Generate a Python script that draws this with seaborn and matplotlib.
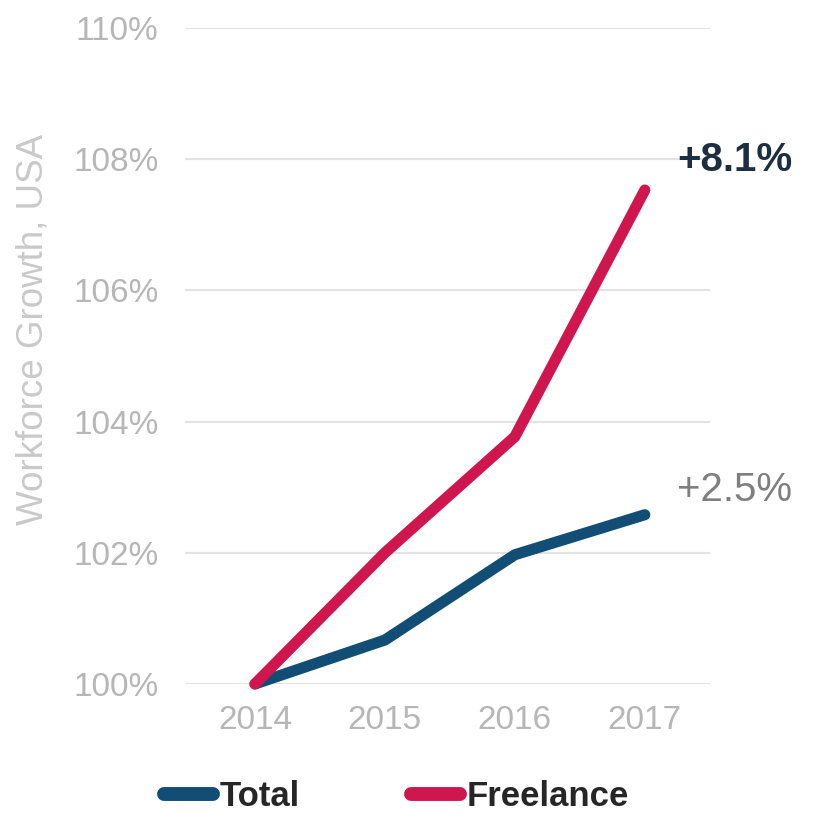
import numpy as np
import pandas as pd
import seaborn as sns
import matplotlib
matplotlib.use("Agg")
import matplotlib.pyplot as plt

# ------ data ------ #
years = [2014, 2015, 2016, 2017]
total = [100.0, 100.67, 101.97, 102.58]
freelance = [100.0, 102.0, 103.77, 107.53]
series_names = ["Total", "Freelance"]
end_labels = ["+2.5%", "+8.1%"]
y_ticks = [100, 102, 104, 106, 108, 110]

colors = {"Total": "#124d75", "Freelance": "#d0164f"}

df = pd.DataFrame({
    "year": years * 2,
    "growth": total + freelance,
    "series": ["Total"] * len(years) + ["Freelance"] * len(years),
})

sns.set_style("white")
plt.rcParams["font.family"] = ["Liberation Sans", "DejaVu Sans"]

fig = plt.figure(figsize=(8.14, 8.13), dpi=100)
ax = fig.add_axes([0.227, 0.1587, 0.645, 0.8069])

sns.lineplot(data=df, x="year", y="growth", hue="series", hue_order=series_names,
             palette=colors, linewidth=8, ax=ax, legend=True,
             solid_capstyle="round", solid_joinstyle="round")
for ln in ax.lines:
    ln.set_clip_on(False)

ax.set_xlim(2013.46, 2017.5)
ax.set_ylim(100, 110)
ax.set_yticks(y_ticks)
ax.set_yticklabels([f"{t}%" for t in y_ticks])
ax.set_xticks(years)
ax.set_xticklabels([str(y) for y in years])
ax.grid(axis="y", color="#e3e3e3", linewidth=1.5)
ax.set_axisbelow(True)
for s in ax.spines.values():
    s.set_visible(False)
ax.tick_params(axis="y", length=0, pad=19, labelsize=24, labelcolor="#b6b6b6")
ax.tick_params(axis="x", length=0, pad=15, labelsize=24, labelcolor="#b6b6b6")
ax.set_xlabel("")
ax.set_ylabel("Workforce Growth, USA", fontsize=26.5, color="#c9c9c9", labelpad=10)
ax.yaxis.set_label_coords(-0.255, 0.54)

# ------ end-of-line labels ------ #
ax.text(years[-1] + 0.25, total[-1] + 0.38, end_labels[0], fontsize=29,
        color="#7f7f7f", va="center", ha="left", clip_on=False)
ax.text(years[-1] + 0.25, freelance[-1] + 0.46, end_labels[1], fontsize=29,
        fontweight="bold", color="#1c2f42", va="center", ha="left", clip_on=False)

handles, labels = ax.get_legend_handles_labels()
ax.get_legend().remove()
leg = fig.legend(handles, labels, loc="center", bbox_to_anchor=(0.487, 0.02),
                 ncol=2, frameon=False, fontsize=25, handlelength=1.4,
                 handletextpad=0.2, columnspacing=3.2)
for t in leg.get_texts():
    t.set_color("#262626")
    t.set_fontweight("bold")
for h in leg.get_lines():
    h.set_linewidth(10)
    h.set_solid_capstyle("round")

fig.savefig("out.png", dpi=100)
